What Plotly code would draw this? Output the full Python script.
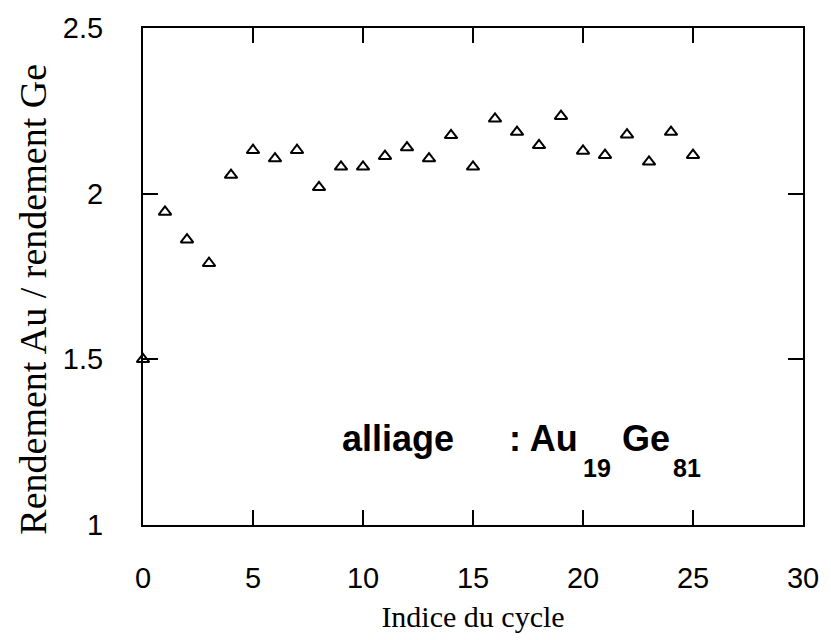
import plotly.graph_objects as go

# Cycle index and Au/Ge yield ratio
cycle = list(range(26))
ratio = [1.50, 1.945, 1.861, 1.790, 2.056, 2.131, 2.106, 2.131, 2.019, 2.081,
         2.081, 2.113, 2.139, 2.106, 2.176, 2.081, 2.226, 2.186, 2.146, 2.234,
         2.129, 2.116, 2.178, 2.096, 2.186, 2.116]

x_ticks = [0, 5, 10, 15, 20, 25, 30]
y_ticks = [1, 1.5, 2, 2.5]

SANS = "Liberation Sans, Arial, sans-serif"
SERIF = "Liberation Serif, Times New Roman, serif"

fig = go.Figure()
fig.add_trace(go.Scatter(
    x=cycle, y=ratio, mode="markers",
    marker=dict(symbol="triangle-up-open", size=11, color="black",
                line=dict(width=2, color="black")),
    cliponaxis=False, showlegend=False,
))

axis_common = dict(
    showline=True, linecolor="black", linewidth=2, mirror="ticks",
    ticks="inside", ticklen=15, tickwidth=1.5, tickcolor="black",
    showgrid=False, zeroline=False,
    tickfont=dict(family=SANS, size=29, color="black"),
)

fig.update_xaxes(range=[0, 30], tickvals=x_ticks, ticklabelstandoff=26,
                 title=dict(text="Indice du cycle",
                            font=dict(family=SERIF, size=30, color="black"),
                            standoff=13),
                 **axis_common)
fig.update_yaxes(range=[1, 2.5], tickvals=y_ticks, ticklabelstandoff=32,
                 **axis_common)

# Vertical axis title, placed a little below the plot centre
fig.add_annotation(text="Rendement Au / rendement Ge", textangle=-90,
                   xref="paper", yref="paper", x=-0.167, y=0.455,
                   xanchor="center", yanchor="middle", showarrow=False,
                   font=dict(family=SERIF, size=38, color="black"))

# Alloy label with lowered subscripts
main_font = dict(family=SANS, size=36, color="black", weight="bold")
sub_font = dict(family=SANS, size=25, color="black", weight="bold")
pieces = [
    ("alliage", 8.96, 1.194, main_font),
    (": Au", 16.55, 1.194, main_font),
    ("19", 19.9, 1.124, sub_font),
    ("Ge", 21.67, 1.194, main_font),
    ("81", 24.0, 1.124, sub_font),
]
for text, px, py, fnt in pieces:
    fig.add_annotation(x=px, y=py, text=text, showarrow=False,
                       xanchor="left", yanchor="bottom", font=fnt)

fig.update_layout(
    width=831, height=640,
    margin=dict(l=143, r=18, t=20, b=110),
    plot_bgcolor="white", paper_bgcolor="white",
)

fig.write_html("out.html")
